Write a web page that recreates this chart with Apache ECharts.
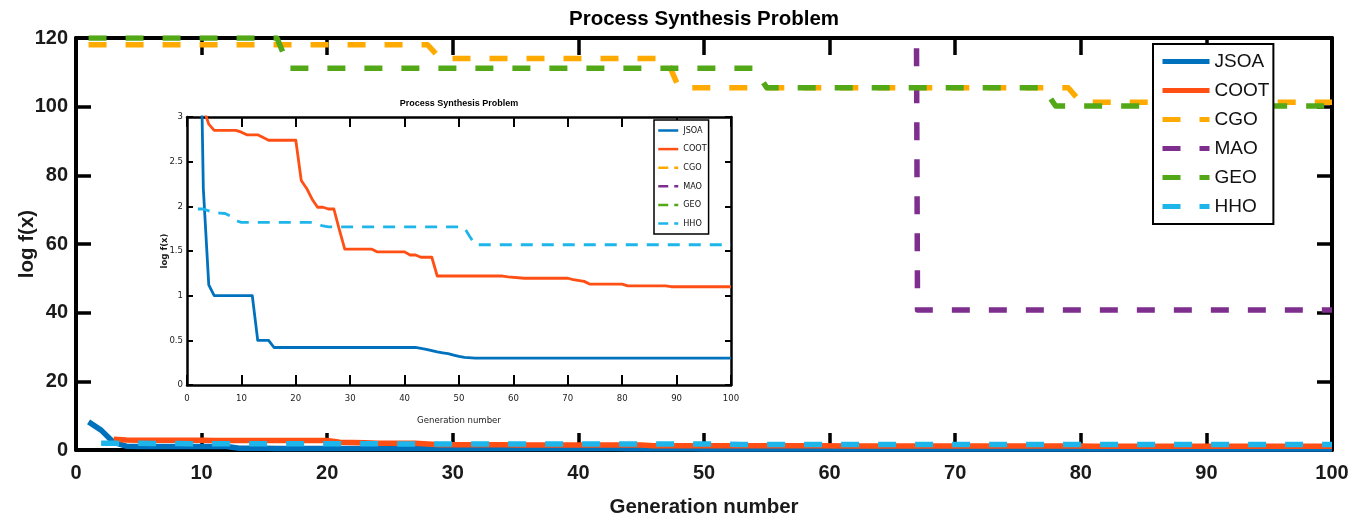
<!DOCTYPE html>
<html>
<head>
<meta charset="utf-8">
<script src="https://cdn.jsdelivr.net/npm/echarts@6/dist/echarts.min.js"></script>
<style>
html, body { margin: 0; padding: 0; background: #fff; }
#chart { width: 1359px; height: 523px; }
</style>
</head>
<body>
<div id="chart"></div>
<script>
// Convergence curves of six optimisers: generation breakpoints and log f(x) values
const seriesNames = ['JSOA', 'COOT', 'CGO', 'MAO', 'GEO', 'HHO'];

const jsoaGen = [1, 2, 3, 4, 5, 12, 13, 15, 16, 42, 43, 44, 45, 46, 47, 48, 49, 50, 51, 53, 100];
const jsoaVal = [8.2, 5.8, 2.2, 1.12, 1.0, 1.0, 0.5, 0.5, 0.42, 0.42, 0.41, 0.40, 0.385, 0.37, 0.36, 0.35, 0.335, 0.32, 0.31, 0.30, 0.30];

const cootGen = [3, 4, 5, 9, 10, 11, 13, 14, 15, 20, 21, 22, 23, 24, 25, 26, 27, 28, 29, 34, 35, 40, 41, 42, 43, 45, 46, 58, 59, 62, 70, 71, 73, 74, 80, 81, 88, 89, 100];
const cootVal = [3.1, 2.92, 2.85, 2.85, 2.83, 2.80, 2.80, 2.77, 2.74, 2.74, 2.29, 2.2, 2.08, 1.99, 1.99, 1.97, 1.97, 1.74, 1.52, 1.52, 1.49, 1.49, 1.455, 1.455, 1.43, 1.43, 1.22, 1.22, 1.21, 1.195, 1.195, 1.18, 1.16, 1.13, 1.13, 1.11, 1.11, 1.10, 1.10];

const cgoGen = [1, 28, 29, 47, 48, 79, 80, 100];
const cgoVal = [118, 118, 114, 114, 105.5, 105.5, 101.3, 101.3];

const maoGen = [1, 66, 67, 100];
const maoVal = [1000, 1000, 40.8, 40.8];

const geoGen = [1, 16, 17, 54, 55, 77, 78, 100];
const geoVal = [120, 120, 111.2, 111.2, 105.5, 105.5, 100.2, 100.2];

const hhoGen = [2, 3, 4, 5, 6, 7, 8, 9, 10, 23, 24, 25, 26, 50, 51, 52, 53, 100];
const hhoVal = [1.97, 1.97, 1.95, 1.93, 1.925, 1.92, 1.89, 1.84, 1.82, 1.82, 1.80, 1.78, 1.77, 1.77, 1.76, 1.66, 1.57, 1.57];

const FONT = "'Liberation Sans', Arial, Helvetica, sans-serif";
const NARROW = "'Liberation Sans Narrow', 'Arial Narrow', 'DejaVu Sans Condensed', sans-serif";

const colors = {
  JSOA: '#0072BD',
  COOT: '#FF4F14',
  CGO: '#FFAA00',
  MAO: '#7E2F8E',
  GEO: '#52A816',
  HHO: '#1EB6EA'
};
const dashed = { JSOA: false, COOT: false, CGO: true, MAO: true, GEO: true, HHO: true };

const pairs = (g, v) => g.map((x, i) => [x, v[i]]);
const dataByName = {
  JSOA: pairs(jsoaGen, jsoaVal),
  COOT: pairs(cootGen, cootVal),
  CGO: pairs(cgoGen, cgoVal),
  MAO: pairs(maoGen, maoVal),
  GEO: pairs(geoGen, geoVal),
  HHO: pairs(hhoGen, hhoVal)
};

function makeSeries(name, axisIdx, width, dash, z) {
  return {
    name: name,
    type: 'line',
    xAxisIndex: axisIdx,
    yAxisIndex: axisIdx,
    data: dataByName[name],
    symbol: 'none',
    showSymbol: false,
    clip: true,
    z: z,
    itemStyle: { color: colors[name] },
    lineStyle: {
      color: colors[name],
      width: width,
      type: dashed[name] ? dash : 'solid',
      cap: 'butt',
      join: 'round'
    },
    emphasis: { disabled: true }
  };
}

function boxAxes(dim, gridIndex, opts) {
  // a labelled axis plus a mirrored tick-only axis closing the box
  const base = {
    type: 'value',
    gridIndex: gridIndex,
    min: opts.min,
    max: opts.max,
    interval: opts.interval,
    z: opts.z,
    splitLine: { show: false },
    axisLine: { show: true, onZero: false, lineStyle: { color: '#000', width: opts.lineWidth } },
    axisTick: { show: true, inside: true, length: opts.tickLen, lineStyle: { color: '#000', width: opts.tickWidth } }
  };
  const first = Object.assign({}, base, {
    position: dim === 'x' ? 'bottom' : 'left',
    axisLabel: Object.assign({ show: true }, opts.label),
    name: opts.name,
    nameLocation: 'middle',
    nameGap: opts.nameGap,
    nameMoveOverlap: false,
    nameTextStyle: opts.nameStyle
  });
  const second = Object.assign({}, base, {
    position: dim === 'x' ? 'top' : 'right',
    axisLabel: { show: false }
  });
  return [first, second];
}

const mainX = boxAxes('x', 0, {
  min: 0, max: 100, interval: 10, z: 1, lineWidth: 4, tickLen: 17, tickWidth: 3.5,
  label: { margin: 13, fontSize: 20, fontWeight: 'bold', color: '#1a1a1a', fontFamily: FONT },
  name: 'Generation number', nameGap: 47,
  nameStyle: { fontSize: 20.5, fontWeight: 'bold', color: '#1a1a1a', fontFamily: FONT }
});
const mainY = boxAxes('y', 0, {
  min: 0, max: 120, interval: 20, z: 1, lineWidth: 4, tickLen: 15, tickWidth: 3.5,
  label: { margin: 8, fontSize: 20, fontWeight: 'bold', color: '#1a1a1a', fontFamily: FONT },
  name: 'log f(x)', nameGap: 38,
  nameStyle: { fontSize: 20.5, fontWeight: 'bold', color: '#1a1a1a', fontFamily: FONT }
});
const insetX = boxAxes('x', 1, {
  min: 0, max: 100, interval: 10, z: 12, lineWidth: 2.5, tickLen: 10, tickWidth: 2,
  label: { margin: 9, fontSize: 9.5, color: '#1a1a1a', fontFamily: NARROW },
  name: 'Generation number', nameGap: 31,
  nameStyle: { fontSize: 9.5, color: '#1a1a1a', fontFamily: NARROW }
});
const insetY = boxAxes('y', 1, {
  min: 0, max: 3, interval: 0.5, z: 12, lineWidth: 2.5, tickLen: 6, tickWidth: 2,
  label: { margin: 4, fontSize: 9.5, color: '#1a1a1a', fontFamily: NARROW },
  name: 'log f(x)', nameGap: 17,
  nameStyle: { fontSize: 9.5, fontWeight: 'bold', color: '#1a1a1a', fontFamily: NARROW }
});

const series = [];
seriesNames.forEach(n => series.push(makeSeries(n, 0, 5.5, [18, 19], 2)));
// inset curves use the second grid's axes (index 2 in each dimension)
seriesNames.forEach(n => series.push(makeSeries(n, 2, 2.8, [12, 9], 14)));

// inset legend: solid samples for solid curves, short dashes for the rest
const insetLegendData = seriesNames.map(n => ({
  name: n,
  lineStyle: { type: dashed[n] ? [10, 6] : 'solid' }
}));

const chart = echarts.init(document.getElementById('chart'), null, { renderer: 'canvas' });
chart.setOption({
  animation: false,
  backgroundColor: '#fff',
  title: [
    {
      text: 'Process Synthesis Problem', left: 704, top: 9, textAlign: 'center', padding: 0,
      textStyle: { fontSize: 20.5, fontWeight: 'bold', color: '#000', fontFamily: FONT }
    },
    {
      text: 'Process Synthesis Problem', left: 459, top: 99, textAlign: 'center', padding: 0, z: 20,
      textStyle: { fontSize: 9, fontWeight: 'bold', color: '#000', fontFamily: FONT }
    }
  ],
  grid: [
    { left: 76, top: 38, width: 1256, height: 412, outerBoundsMode: 'none', containLabel: false, show: false },
    { left: 187, top: 117, width: 544, height: 268, outerBoundsMode: 'none', containLabel: false,
      show: true, backgroundColor: '#fff', borderWidth: 0, z: 10 }
  ],
  xAxis: [mainX[0], mainX[1], insetX[0], insetX[1]],
  yAxis: [mainY[0], mainY[1], insetY[0], insetY[1]],
  legend: [
    {
      data: seriesNames, orient: 'vertical', left: 1153, top: 44,
      itemWidth: 47, itemHeight: 20, itemGap: 10, padding: [8, 4, 8, 7],
      backgroundColor: '#fff', borderColor: '#000', borderWidth: 2,
      textStyle: { fontSize: 19, color: '#111', fontFamily: FONT },
      itemStyle: { opacity: 0 }, lineStyle: { width: 5 },
      selectedMode: false, z: 30
    },
    {
      data: insetLegendData, orient: 'vertical', left: 654, top: 120,
      itemWidth: 20, itemHeight: 10, itemGap: 9.6, padding: [6, 2, 6, 3],
      backgroundColor: '#fff', borderColor: '#000', borderWidth: 1.5,
      textStyle: { fontSize: 9, color: '#111', fontFamily: NARROW },
      itemStyle: { opacity: 0 }, lineStyle: { width: 2.5 },
      selectedMode: false, z: 30
    }
  ],
  series: series
});
</script>
</body>
</html>
